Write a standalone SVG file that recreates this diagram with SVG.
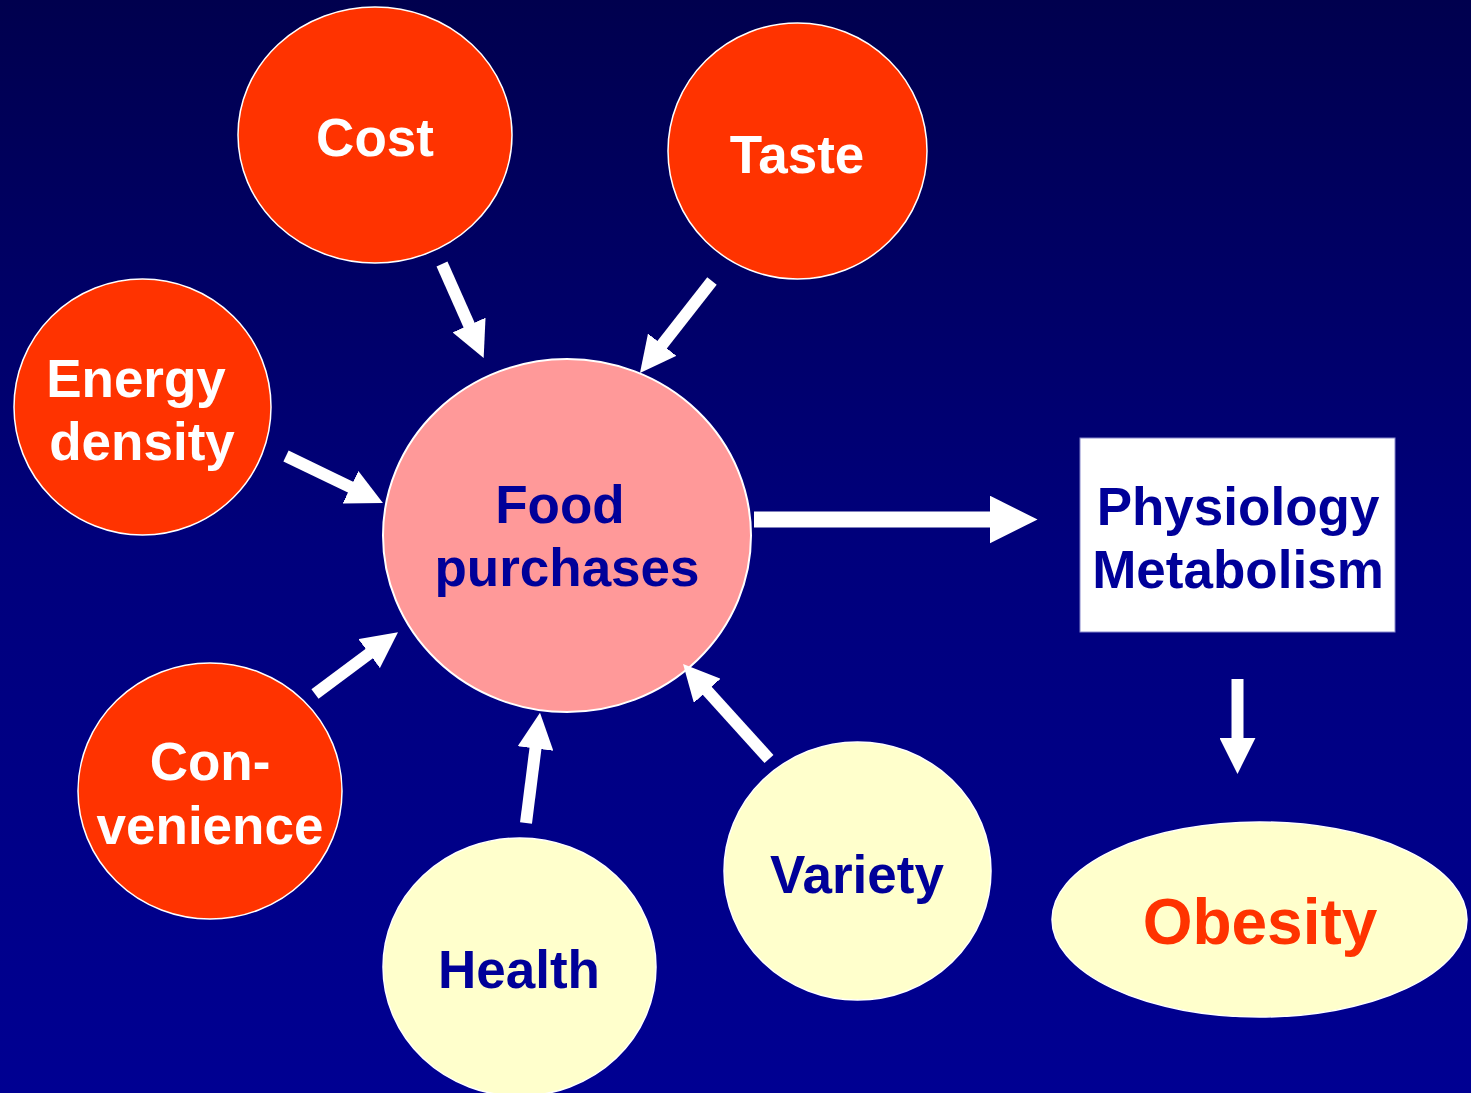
<svg xmlns="http://www.w3.org/2000/svg" width="1471" height="1093" viewBox="0 0 1471 1093">
<defs>
<linearGradient id="bg" x1="0" y1="0" x2="0" y2="1">
<stop offset="0" stop-color="#00004E"/>
<stop offset="0.5" stop-color="#00007C"/>
<stop offset="1" stop-color="#000092"/>
</linearGradient>
<marker id="ah" viewBox="0 0 10 10" refX="0.3" refY="5" markerWidth="3" markerHeight="3" markerUnits="strokeWidth" orient="auto">
<path d="M0,0 L10,5 L0,10 z" fill="#FFFFFF"/>
</marker>
<style>
.red{fill:#FF3300;stroke:#FFFFFF;stroke-width:1.5}
.pale{fill:#FFFFCC;stroke:#FFFFFF;stroke-width:1.5}
.pink{fill:#FF9999;stroke:#FFFFFF;stroke-width:2}
.t{font-family:"Liberation Sans",Arial,sans-serif;font-weight:bold;font-size:53px;text-anchor:middle}
.w{fill:#FFFFFF}
.b{fill:#000099}
.conn line{stroke:#FFFFFF;stroke-width:12;marker-end:url(#ah)}
</style>
</defs>
<rect x="0" y="0" width="1471" height="1093" fill="url(#bg)"/>
<g id="cost"><ellipse class="red" cx="375" cy="135" rx="137" ry="128"/><text class="t w" x="375" y="156">Cost</text></g>
<g id="taste"><ellipse class="red" cx="797.5" cy="151" rx="129.5" ry="128"/><text class="t w" x="797" y="173">Taste</text></g>
<g id="energy"><ellipse class="red" cx="142.5" cy="407" rx="128.5" ry="128"/><text class="t w" x="136" y="397">Energy</text><text class="t w" x="142" y="460">density</text></g>
<g id="food"><ellipse class="pink" cx="567" cy="535.5" rx="184" ry="176.5"/><text class="t b" x="560" y="523">Food</text><text class="t b" x="567" y="586">purchases</text></g>
<g id="convenience"><ellipse class="red" cx="210" cy="791" rx="132" ry="128"/><text class="t w" x="210" y="780">Con-</text><text class="t w" x="210" y="844">venience</text></g>
<g id="health"><ellipse class="pale" cx="519.5" cy="967" rx="136.5" ry="129"/><text class="t b" x="519" y="988">Health</text></g>
<g id="variety"><ellipse class="pale" cx="857.5" cy="871" rx="133.5" ry="129"/><text class="t b" x="857" y="893">Variety</text></g>
<g id="physiology"><rect x="1080" y="438" width="315" height="194" fill="#FFFFFF" stroke="#8888CC" stroke-width="1"/><text class="t b" x="1238" y="525">Physiology</text><text class="t b" x="1238" y="588">Metabolism</text></g>
<g id="obesity"><ellipse class="pale" cx="1259.5" cy="919.5" rx="207.5" ry="97.5"/><text class="t" x="1260" y="944" style="font-size:64px;fill:#FF3300">Obesity</text></g>
<g id="connectors" class="conn">
<line x1="442" y1="264" x2="469.5" y2="326"/>
<line x1="712" y1="281" x2="661.5" y2="345.5"/>
<line x1="286" y1="456" x2="351.5" y2="487.7"/>
<line x1="315" y1="694" x2="370" y2="653"/>
<line x1="526" y1="823" x2="535.6" y2="747.5"/>
<line x1="769" y1="759" x2="706.5" y2="690"/>
<line x1="754" y1="519.5" x2="991" y2="519.5" style="stroke-width:16"/>
<line x1="1237.5" y1="679" x2="1237.5" y2="739"/>
</g>
</svg>
